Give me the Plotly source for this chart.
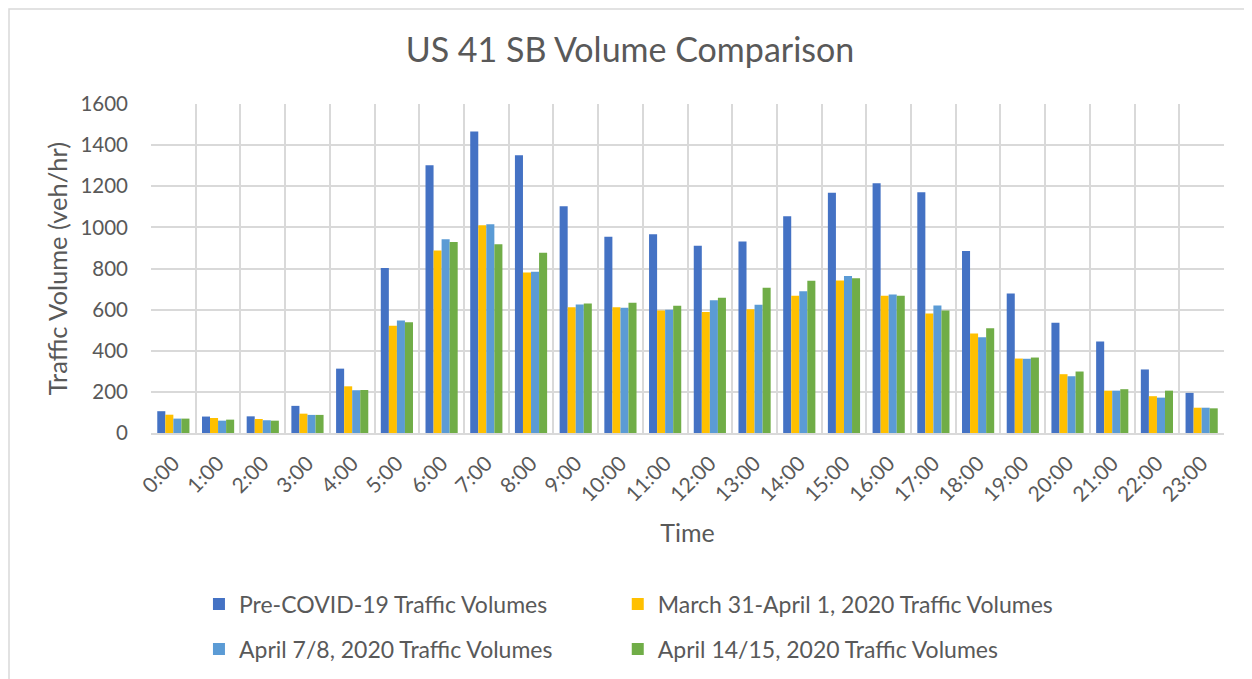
import plotly.graph_objects as go

hours = ["0:00", "1:00", "2:00", "3:00", "4:00", "5:00", "6:00", "7:00", "8:00", "9:00",
         "10:00", "11:00", "12:00", "13:00", "14:00", "15:00", "16:00", "17:00", "18:00",
         "19:00", "20:00", "21:00", "22:00", "23:00"]

pre_covid = [106, 80, 81, 132, 313, 802, 1302, 1466, 1351, 1103, 955, 966, 911, 931,
             1054, 1168, 1215, 1171, 885, 679, 536, 445, 309, 195]
march31_apr1 = [89, 73, 68, 94, 227, 521, 888, 1010, 781, 612, 611, 596, 588, 602,
                667, 742, 667, 581, 484, 362, 286, 206, 179, 123]
april7_8 = [70, 60, 62, 88, 208, 547, 942, 1015, 784, 625, 609, 599, 646, 624,
            689, 763, 674, 620, 466, 361, 276, 206, 172, 123]
april14_15 = [70, 65, 60, 88, 209, 539, 929, 918, 877, 630, 633, 619, 658, 706,
              741, 752, 667, 596, 510, 367, 299, 213, 206, 120]

series_names = ["Pre-COVID-19 Traffic Volumes", "March 31-April 1, 2020 Traffic Volumes",
                "April 7/8, 2020 Traffic Volumes", "April 14/15, 2020 Traffic Volumes"]
series_values = [pre_covid, march31_apr1, april7_8, april14_15]
colors = ["#4472C4", "#FFC000", "#5B9BD5", "#70AD47"]
legend_ids = ["legend", "legend2", "legend3", "legend4"]

FONT = "Lato, 'Noto Sans', sans-serif"
TXT = "#595959"

fig = go.Figure()
for name, vals, col, lg in zip(series_names, series_values, colors, legend_ids):
    fig.add_trace(go.Bar(x=hours, y=vals, name=name, marker_color=col,
                         marker_line_width=0, legend=lg, showlegend=True))

legend_common = dict(orientation="h", xanchor="left", yanchor="middle",
                     font=dict(family=FONT, size=23, color=TXT),
                     bgcolor="rgba(0,0,0,0)")

col1_x, col2_x = 0.0447, 0.435
row1_y, row2_y = (433 - 604) / 329, (433 - 649) / 329

# plot area: 1073 x 329 px
fig.update_layout(
    width=1252, height=679,
    margin=dict(l=143, r=36, t=96, b=254),
    paper_bgcolor="white", plot_bgcolor="white",
    showlegend=True,
    barmode="group", bargap=0.28, bargroupgap=0,
    title=dict(text="US 41 SB Volume Comparison", x=(630 - 8) / 1252, xanchor="center",
               y=1 - 42 / 679, yanchor="middle",
               font=dict(family=FONT, size=34, color=TXT)),
    font=dict(family=FONT, color=TXT),
    legend=dict(x=col1_x, y=row1_y, **legend_common),
    legend2=dict(x=col2_x, y=row1_y, **legend_common),
    legend3=dict(x=col1_x, y=row2_y, **legend_common),
    legend4=dict(x=col2_x, y=row2_y, **legend_common),
    xaxis=dict(type="category", tickson="boundaries", showgrid=True,
               gridcolor="#D9D9D9", gridwidth=1.5, ticks="", tickangle=-45,
               ticklabelstandoff=8,
               tickfont=dict(family=FONT, size=21, color=TXT),
               showline=True, linecolor="#D9D9D9", linewidth=1.5,
               title=dict(text="Time", font=dict(family=FONT, size=25, color=TXT),
                          standoff=20)),
    yaxis=dict(range=[0, 1600], dtick=200, showgrid=True, gridcolor="#D9D9D9",
               gridwidth=1.5, zeroline=False, ticks="", ticklabelstandoff=22,
               tickfont=dict(family=FONT, size=20.5, color=TXT),
               title=dict(text="Traffic Volume (veh/hr)",
                          font=dict(family=FONT, size=25.5, color=TXT), standoff=5)),
    shapes=[dict(type="rect", xref="paper", yref="paper",
                 x0=(9 - 151) / 1073, x1=(1300 - 151) / 1073,
                 y0=(433 - 720) / 329, y1=(433 - 9) / 329,
                 line=dict(color="#D9D9D9", width=1.5), fillcolor="rgba(0,0,0,0)",
                 layer="below")],
)

fig.write_html("out.html")
